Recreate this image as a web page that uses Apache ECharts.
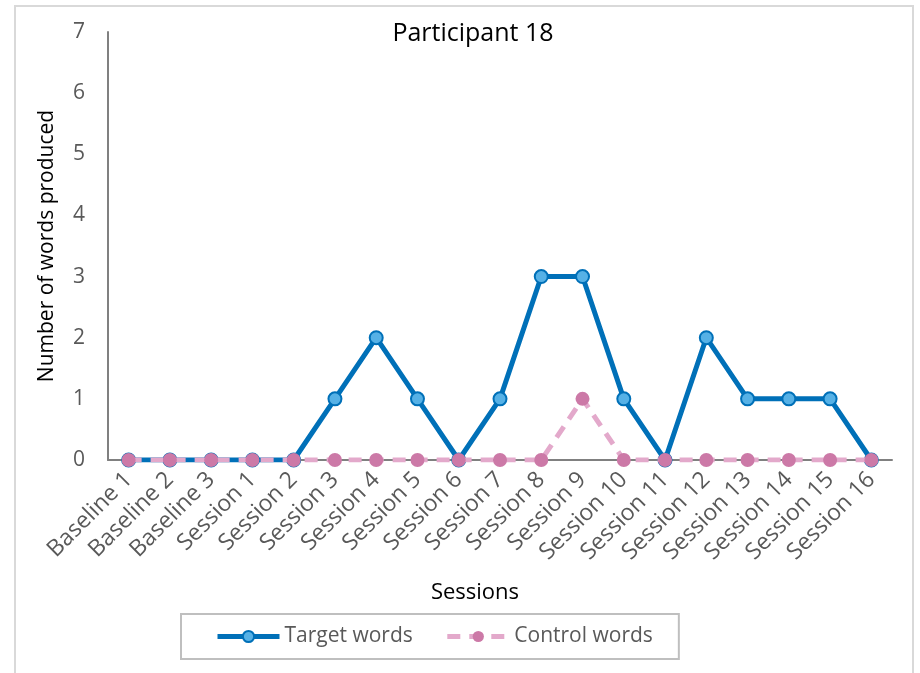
<!DOCTYPE html>
<html>
<head>
<meta charset="utf-8">
<script src="https://cdn.jsdelivr.net/npm/echarts@6/dist/echarts.min.js"></script>
<style>
  html, body { margin: 0; padding: 0; background: #fff; }
  #frame { position: absolute; left: 14px; top: 5px; width: 900px; height: 680px; border: 2px solid #d9d9d9; box-sizing: border-box; }
  #chart { position: absolute; left: 0; top: 0; width: 920px; height: 673px; }
</style>
</head>
<body>
<div id="frame"></div>
<div id="chart"></div>
<script>
// categories on the x axis
const sessions = ['Baseline 1', 'Baseline 2', 'Baseline 3', 'Session 1', 'Session 2', 'Session 3',
  'Session 4', 'Session 5', 'Session 6', 'Session 7', 'Session 8', 'Session 9', 'Session 10',
  'Session 11', 'Session 12', 'Session 13', 'Session 14', 'Session 15', 'Session 16']
// words produced
const targetWords = [0, 0, 0, 0, 0, 1, 2, 1, 0, 1, 3, 3, 1, 0, 2, 1, 1, 1, 0]
const controlWords = [0, 0, 0, 0, 0, 0, 0, 0, 0, 0, 0, 1, 0, 0, 0, 0, 0, 0, 0]

const font = 'Open Sans'
const grey = '#595959'

const chart = echarts.init(document.getElementById('chart'), null, { renderer: 'canvas' })
chart.setOption({
  animation: false,
  textStyle: { fontFamily: font },
  title: {
    text: 'Participant 18',
    left: 468,
    top: 16,
    textAlign: 'center',
    textStyle: { fontFamily: font, fontSize: 25, fontWeight: 'normal', color: '#000' }
  },
  grid: { left: 108, right: 28, top: 32, bottom: 213, containLabel: false },
  legend: {
    left: 181,
    top: 614,
    padding: [12, 26, 12, 34],
    borderColor: '#bfbfbf',
    borderWidth: 2,
    itemWidth: 62,
    itemHeight: 14,
    itemGap: 32,
    lineStyle: { width: 5 },
    textStyle: { fontFamily: font, fontSize: 21, color: grey },
    data: ['Target words', 'Control words']
  },
  xAxis: {
    type: 'category',
    data: sessions,
    boundaryGap: true,
    name: 'Sessions',
    nameLocation: 'middle',
    nameGap: 122,
    nameTextStyle: { fontFamily: font, fontSize: 22, color: '#000', padding: [0, 50, 0, 0] },
    axisLine: { lineStyle: { color: '#808080', width: 2 } },
    axisTick: { show: false },
    axisLabel: { rotate: 45, fontSize: 23, color: grey, fontFamily: font, margin: 16, interval: 0 },
    splitLine: { show: false }
  },
  yAxis: {
    type: 'value',
    min: 0,
    max: 7,
    interval: 1,
    name: 'Number of words produced',
    nameLocation: 'middle',
    nameGap: 50,
    nameTextStyle: { fontFamily: font, fontSize: 21, color: '#000' },
    axisLine: { show: true, lineStyle: { color: '#808080', width: 2 } },
    axisTick: { show: false },
    axisLabel: { fontSize: 21, color: grey, fontFamily: font, margin: 23 },
    splitLine: { show: false }
  },
  series: [
    {
      name: 'Target words',
      type: 'line',
      data: targetWords,
      symbol: 'circle',
      symbolSize: 13,
      lineStyle: { color: '#0070b8', width: 5 },
      itemStyle: { color: '#56b1e6', borderColor: '#0070b8', borderWidth: 2 },
      z: 2
    },
    {
      name: 'Control words',
      type: 'line',
      data: controlWords,
      symbol: 'circle',
      symbolSize: 14,
      lineStyle: { color: '#e3a9cb', width: 5, type: [13, 9] },
      itemStyle: { color: '#cc79a7', borderWidth: 0 },
      z: 3
    }
  ]
})
</script>
</body>
</html>
